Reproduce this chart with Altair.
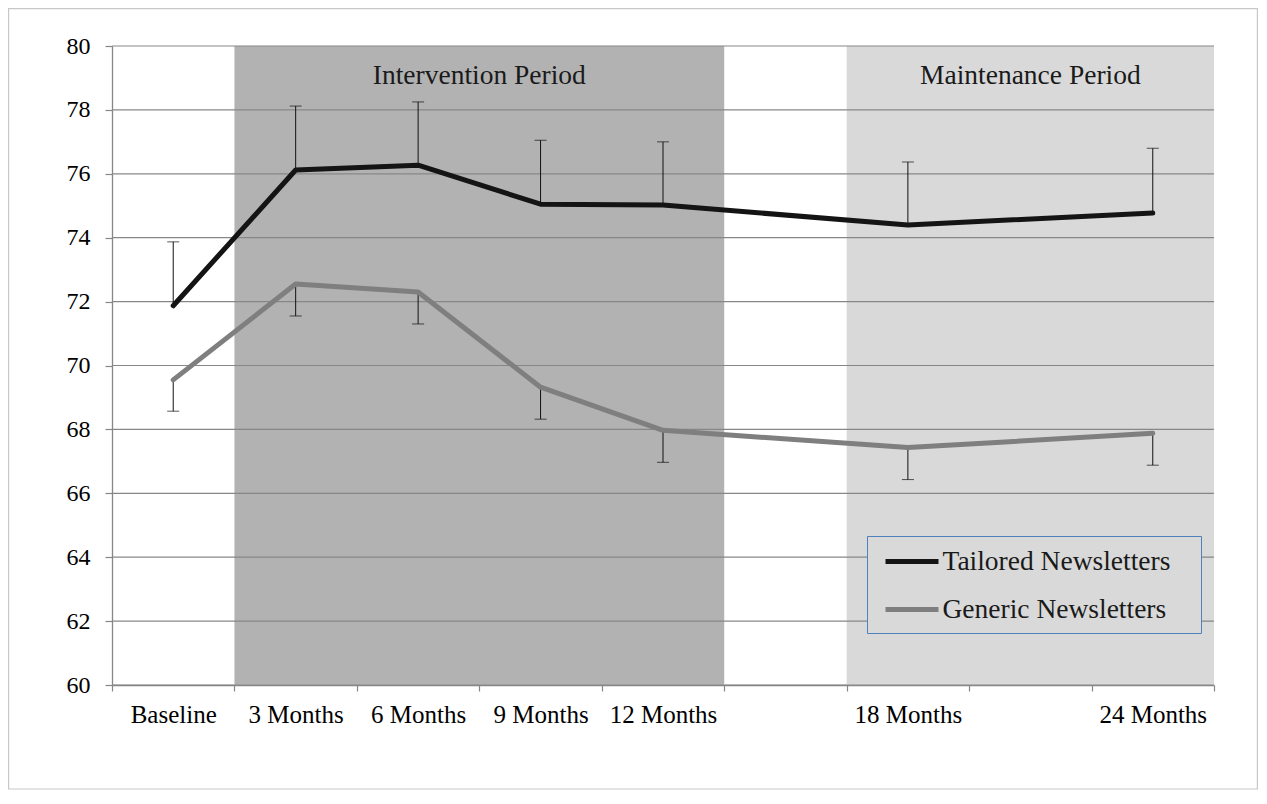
import altair as alt
import pandas as pd

# ---- data ----
categories = ["Baseline", "3 Months", "6 Months", "9 Months", "12 Months", "18 Months", "24 Months"]
slot_index = [0, 1, 2, 3, 4, 6, 8]          # position of each category among 9 equal slots
n_slots = 9

tailored_mean = [71.87, 76.12, 76.27, 75.05, 75.02, 74.40, 74.77]
tailored_err = [2.00, 2.00, 1.98, 2.00, 1.98, 1.97, 2.03]     # drawn upward
generic_mean = [69.55, 72.55, 72.30, 69.32, 67.97, 67.43, 67.88]
generic_err = [0.98, 1.00, 1.00, 1.00, 1.00, 1.00, 1.00]      # drawn downward

series_names = ["Tailored Newsletters", "Generic Newsletters"]
series_colors = ["#141414", "#7f7f7f"]

periods = ["Intervention Period", "Maintenance Period"]
period_start = [1, 6]
period_end = [5, 9]
period_fill = ["#b2b2b2", "#d9d9d9"]

y_ticks = [60, 62, 64, 66, 68, 70, 72, 74, 76, 78, 80]

# ---- tables ----
rows = []
for name, means, errs, sign in [(series_names[0], tailored_mean, tailored_err, 1),
                                (series_names[1], generic_mean, generic_err, -1)]:
    for c, s, m, e in zip(categories, slot_index, means, errs):
        rows.append({"series": name, "cat": c, "pos": s + 0.5, "mean": m,
                     "bound": m + sign * e})
df = pd.DataFrame(rows)

per_df = pd.DataFrame({"period": periods, "start": period_start, "end": period_end,
                       "mid": [(a + b) / 2 for a, b in zip(period_start, period_end)],
                       "fill": period_fill, "lo": [60] * 2, "hi": [80] * 2})
grid_df = pd.DataFrame({"v": y_ticks})

tick_labels = [""] * (n_slots + 1)
for c, s in zip(categories, slot_index):
    tick_labels[s] = c
label_expr = "[" + ",".join("'" + t + "'" for t in tick_labels) + "][datum.value]"

W, H = 1102, 639
FONT = "Liberation Serif"

xscale = alt.Scale(domain=[0, n_slots], nice=False, zero=False)
yscale = alt.Scale(domain=[60, 80], nice=False, zero=False)

xaxis = alt.Axis(values=list(range(n_slots + 1)), labelExpr=label_expr, title=None,
                 grid=False, labelOffset=W / n_slots / 2, labelOverlap=False,
                 labelBound=False, labelFlush=False, labelFontSize=25,
                 labelPadding=11, tickSize=6)
yaxis = alt.Axis(values=y_ticks, title=None, grid=False,
                 labelFontSize=24, labelPadding=15, tickSize=7)

shade = alt.Chart(per_df).mark_rect().encode(
    x=alt.X("start:Q", scale=xscale, axis=xaxis),
    x2="end:Q",
    y=alt.Y("lo:Q", scale=yscale, axis=yaxis),
    y2="hi:Q",
    fill=alt.Fill("fill:N", scale=None, legend=None),
)

grid = alt.Chart(grid_df).mark_rule(color="#878787", strokeWidth=1.2).encode(
    y=alt.Y("v:Q", scale=yscale, axis=yaxis)
)

period_text = alt.Chart(per_df).mark_text(font=FONT, fontSize=27.5, color="#1a1a1a",
                                          baseline="alphabetic", align="center").encode(
    x=alt.X("mid:Q", scale=xscale, axis=xaxis),
    y=alt.value(38),
    text="period:N",
)

err_rule = alt.Chart(df).mark_rule(color="#111111", strokeWidth=1).encode(
    x=alt.X("pos:Q", scale=xscale, axis=xaxis),
    y=alt.Y("mean:Q", scale=yscale, axis=yaxis),
    y2="bound:Q",
)
err_cap = alt.Chart(df).mark_tick(color="#111111", thickness=1, size=12,
                                  orient="horizontal").encode(
    x=alt.X("pos:Q", scale=xscale, axis=xaxis),
    y=alt.Y("bound:Q", scale=yscale, axis=yaxis),
)

lines = alt.Chart(df).mark_line(strokeWidth=5, strokeCap="round",
                                strokeJoin="round").encode(
    x=alt.X("pos:Q", scale=xscale, axis=xaxis),
    y=alt.Y("mean:Q", scale=yscale, axis=yaxis),
    color=alt.Color("series:N",
                    scale=alt.Scale(domain=series_names, range=series_colors),
                    sort=series_names,
                    legend=alt.Legend(orient="none", legendX=755, legendY=490,
                                      title=None, strokeColor="#4f81bd",
                                      fillColor="#d9d9d9", padding=9.5,
                                      symbolType="M-1.963,0H1.963", symbolSize=729,
                                      symbolStrokeWidth=5, symbolOffset=19.5,
                                      labelOffset=14.5, rowPadding=18,
                                      labelFont=FONT, labelFontSize=27.5,
                                      labelColor="#1a1a1a", labelLimit=600,
                                      labelExpr="datum.label + '\u2800'")),
)

frame = alt.Chart(grid_df.head(1)).mark_rect(fill=None, stroke="#c8c8c8",
                                             strokeWidth=1.2).encode(
    x=alt.value(-103.4), x2=alt.value(W + 43.4),
    y=alt.value(-37.4), y2=alt.value(H + 104),
)

chart = alt.layer(frame, shade, grid, period_text, err_rule, err_cap, lines).properties(
    width=W, height=H,
    autosize=alt.AutoSizeParams(type="none"),
    padding={"left": 104, "top": 38, "right": 44, "bottom": 105},
    background="white",
).configure_view(stroke=None).configure_axis(
    labelFont=FONT, labelColor="#000000", tickColor="#868686",
    domainColor="#868686", domainWidth=1.3, tickWidth=1.2,
).configure_legend(labelFont=FONT)

chart.save("out.html", embed_options={"renderer": "svg", "actions": False})
